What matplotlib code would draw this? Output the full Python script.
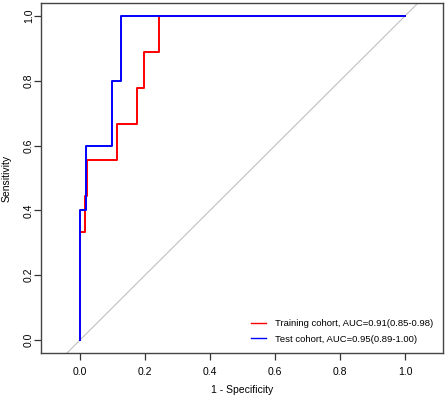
import matplotlib
matplotlib.use('Agg')
import matplotlib.pyplot as plt

plt.rcParams['font.family'] = ['Liberation Sans', 'DejaVu Sans']

# ROC vertices (1 - specificity, sensitivity)
train_fpr = [0.0, 0.0, 0.015, 0.015, 0.022, 0.022, 0.114, 0.114, 0.175, 0.175, 0.197, 0.197, 0.243, 0.243, 1.0]
train_tpr = [0.0, 0.333, 0.333, 0.444, 0.444, 0.556, 0.556, 0.667, 0.667, 0.778, 0.778, 0.889, 0.889, 1.0, 1.0]
test_fpr = [0.0, 0.0, 0.018, 0.018, 0.098, 0.098, 0.126, 0.126, 1.0]
test_tpr = [0.0, 0.4, 0.4, 0.6, 0.6, 0.8, 0.8, 1.0, 1.0]

train_label = 'Training cohort, AUC=0.91(0.85-0.98)'
test_label = 'Test cohort, AUC=0.95(0.89-1.00)'
ticks = [0.0, 0.2, 0.4, 0.6, 0.8, 1.0]
tick_labels = ['0.0', '0.2', '0.4', '0.6', '0.8', '1.0']

fig = plt.figure(figsize=(4.47, 3.96), dpi=100)
ax = fig.add_axes([41 / 447, 1 - 353 / 396, 402 / 447, 350 / 396])

ax.plot([-0.3, 1.3], [-0.3, 1.3], color='#c0c0c0', lw=0.8, zorder=1)  # chance line
ax.plot(train_fpr, train_tpr, color='#ff0000', lw=1.4, label=train_label, zorder=2)
ax.plot(test_fpr, test_tpr, color='#0000ff', lw=1.4, label=test_label, zorder=3)

ax.set_xlim(-0.12, 1.117)
ax.set_ylim(-0.04, 1.04)
ax.set_xticks(ticks)
ax.set_xticklabels(tick_labels)
ax.set_yticks(ticks)
ax.set_yticklabels(tick_labels, rotation=90, va='center')
ax.tick_params(labelsize=7.5, length=5, width=0.9, color='#333333')
ax.tick_params(axis='x', pad=5)
ax.tick_params(axis='y', pad=0)

for s in ax.spines.values():
    s.set_color('#444444')
    s.set_linewidth(1.0)

ax.set_xlabel('1 - Specificity', fontsize=7.5, labelpad=6)
ax.set_ylabel('Sensitivity', fontsize=7.5, labelpad=9)

leg = ax.legend(loc='lower right', frameon=False, fontsize=6.8, handlelength=1.6,
                handletextpad=1.0, borderaxespad=0.6, labelspacing=0.7)
for line in leg.get_lines():
    line.set_linewidth(1.0)

fig.savefig('out.png', dpi=100)
